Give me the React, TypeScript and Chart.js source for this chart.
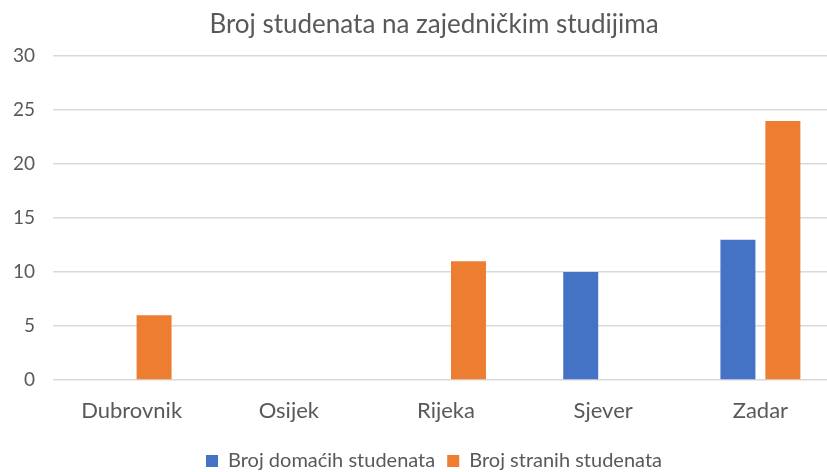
import React, { useEffect, useRef } from "react";
import { Chart, registerables } from "chart.js";

Chart.register(...registerables);

const titleText = "Broj studenata na zajedničkim studijima";
const categories = ["Dubrovnik", "Osijek", "Rijeka", "Sjever", "Zadar"];
const domestic = [0, 0, 0, 10, 13];
const foreign = [6, 0, 11, 0, 24];
const seriesNames = ["Broj domaćih studenata", "Broj stranih studenata"];
const yMin = 0;
const yMax = 30;
const yStep = 5;

const FONT = "Lato, 'Open Sans', sans-serif";
const TEXT = "#595959";
const W = 868;
const H = 481;

export default function App() {
  const ref = useRef<HTMLCanvasElement | null>(null);
  useEffect(() => {
    if (!ref.current) return;
    const chart = new Chart(ref.current, {
      type: "bar",
      data: {
        labels: categories,
        datasets: [
          {
            label: seriesNames[0],
            data: domestic,
            backgroundColor: "#4472C4",
            borderWidth: 0,
            categoryPercentage: 0.572,
            barPercentage: 0.778,
          },
          {
            label: seriesNames[1],
            data: foreign,
            backgroundColor: "#ED7D31",
            borderWidth: 0,
            categoryPercentage: 0.572,
            barPercentage: 0.778,
          },
        ],
      },
      options: {
        animation: false,
        responsive: false,
        maintainAspectRatio: false,
        layout: { padding: 0 },
        plugins: {
          title: {
            display: true,
            text: titleText,
            color: TEXT,
            font: { family: FONT, size: 26, weight: "normal", lineHeight: 1.2 },
            padding: { top: 9, bottom: 16 },
          },
          legend: {
            position: "bottom",
            labels: {
              color: TEXT,
              font: { family: FONT, size: 20 },
              boxWidth: 12,
              boxHeight: 12,
              padding: 12,
            },
          },
          tooltip: { enabled: false },
        },
        scales: {
          x: {
            grid: { display: false, drawTicks: false },
            border: { display: false },
            ticks: {
              color: TEXT,
              font: { family: FONT, size: 22, lineHeight: 1.2 },
              padding: 18,
              maxRotation: 0,
            },
            afterFit: (s: any) => {
              s.height = 59;
            },
          },
          y: {
            min: yMin,
            max: yMax,
            grid: { color: "#D9D9D9", lineWidth: 1.5, drawTicks: false },
            border: { display: false },
            ticks: {
              stepSize: yStep,
              color: TEXT,
              font: { family: FONT, size: 19 },
              padding: 18,
            },
            afterFit: (s: any) => {
              s.width = 53;
            },
          },
          yRight: {
            type: "linear",
            position: "right",
            display: true,
            grid: { display: false, drawTicks: false },
            border: { display: false },
            ticks: { display: false },
            afterFit: (s: any) => {
              s.width = 29;
            },
          },
        },
      },
    });
    return () => chart.destroy();
  }, []);
  return (
    <div
      style={{
        position: "fixed",
        left: 0,
        top: 0,
        width: 827,
        height: 472,
        overflow: "hidden",
        background: "#fff",
      }}
    >
      <canvas ref={ref} width={W} height={H} style={{ width: W, height: H }} />
    </div>
  );
}
